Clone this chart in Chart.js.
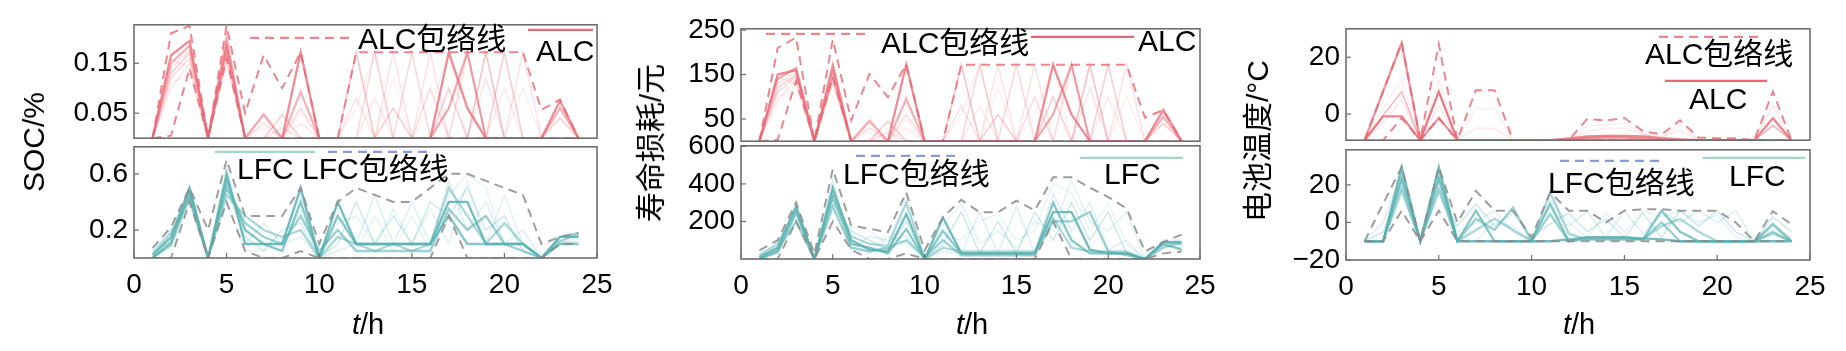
<!DOCTYPE html>
<html>
<head>
<meta charset="utf-8">
<script src="https://cdn.jsdelivr.net/npm/chart.js@4.4.1/dist/chart.umd.min.js"></script>
<style>
body{margin:0;background:#fff;}
#fig{position:relative;width:1846px;height:351px;overflow:hidden;font-family:"Liberation Sans",Arial,"Noto Sans CJK SC",sans-serif;color:#000;}
.sub{position:absolute;}
.ytitle{position:absolute;font-size:30px;white-space:nowrap;transform:translate(-50%,-50%) rotate(-90deg);}
.xtitle{position:absolute;font-size:29px;white-space:nowrap;transform:translate(-50%,-50%);}
</style>
</head>
<body>
<div id="fig"></div>
<script>
// hours 1..24
const HOURS = [1,2,3,4,5,6,7,8,9,10,11,12,13,14,15,16,17,18,19,20,21,22,23,24];
const X_TICKS = [0,5,10,15,20,25];

// ---- SOC ----
const SOC_ALC = [
  [0,0.166,0.195,0,0.182,0,0,0,0.172,0,0,0,0,0,0,0,0.172,0.06,0,0,0,0,0.075,0],
  [0,0.15,0.185,0,0.2,0,0.047,0,0.093,0,0,0,0,0,0,0,0.06,0.172,0,0,0,0,0.06,0],
  [0,0.13,0.17,0,0.162,0,0,0.047,0,0,0,0.172,0,0.06,0,0,0.1,0,0.172,0,0,0,0.04,0],
  [0,0.12,0.16,0,0.19,0,0.03,0,0.06,0,0,0,0.172,0,0,0.1,0,0.172,0,0.172,0,0,0,0],
  [0,0.14,0.175,0,0.15,0,0,0.02,0,0,0,0.08,0,0.172,0,0.172,0,0,0.12,0,0.172,0,0,0],
  [0,0.1,0.15,0,0.17,0,0.05,0,0.03,0,0,0,0.08,0,0.172,0,0.06,0.172,0,0.1,0,0,0,0],
  [0,0.16,0.14,0,0.21,0,0,0,0,0,0,0.06,0.172,0,0.172,0,0,0,0.172,0,0.1,0,0,0],
  [0,0.11,0.13,0,0.18,0,0.02,0,0.05,0,0,0.172,0,0.12,0,0.06,0.172,0,0,0.172,0,0,0,0]
];
const SOC_ALC_UPPER = [0,0.21,0.225,0,0.225,0.05,0.166,0.1,0.172,0,0,0.172,0.172,0.172,0.172,0.172,0.172,0.172,0.172,0.172,0.172,0.057,0.077,0];
const SOC_ALC_LOWER = [0,0.005,0.14,0,0.16,0,0,0,0,0,0,0,0,0,0,0,0,0,0,0,0,0,0,0];

const SOC_LFC = [
  [0.02,0.15,0.5,0,0.6,0.1,0.1,0.1,0.5,0,0.4,0.1,0.1,0.1,0.1,0.1,0.4,0.4,0.1,0.1,0.1,0,0.15,0.15],
  [0,0.1,0.45,0,0.55,0.2,0.1,0.05,0.4,0,0.3,0.1,0.1,0.1,0.1,0.1,0.3,0.1,0.1,0.1,0.1,0,0.1,0.1],
  [0,0.12,0.48,0,0.5,0.25,0.15,0.1,0.3,0.05,0.2,0.05,0.05,0.05,0.05,0.05,0.35,0.2,0.3,0.1,0.05,0,0.12,0.17],
  [0.03,0.18,0.42,0,0.45,0.3,0.2,0.15,0.2,0,0.15,0.1,0.05,0.1,0.05,0.1,0.5,0.3,0.1,0.25,0.1,0,0.15,0.18],
  [0,0.08,0.4,0,0.5,0.15,0.05,0.2,0.25,0,0.1,0.4,0.1,0.3,0.1,0.4,0.3,0.5,0.2,0.3,0.05,0,0.1,0.12],
  [0.05,0.2,0.5,0,0.65,0.1,0.25,0.1,0.15,0,0.05,0.1,0.45,0.1,0.4,0.1,0.55,0.2,0.4,0.1,0.2,0,0.1,0.15],
  [0,0.1,0.45,0,0.55,0.2,0.1,0.1,0.35,0,0.25,0.3,0.1,0.35,0.1,0.35,0.1,0.55,0.1,0.45,0.1,0,0.12,0.1],
  [0,0.15,0.47,0,0.4,0.05,0.05,0.1,0.45,0,0.35,0.05,0.3,0.05,0.3,0.05,0.45,0.6,0.5,0.1,0.1,0,0.15,0.15]
];
const SOC_LFC_UPPER = [0.07,0.22,0.5,0.2,0.7,0.3,0.3,0.3,0.5,0.1,0.4,0.5,0.45,0.4,0.4,0.5,0.6,0.6,0.55,0.5,0.45,0.1,0.15,0.18];
const SOC_LFC_LOWER = [0,0,0.4,0,0.4,0.05,0,0,0.05,0,0,0,0,0,0,0,0.3,0,0,0,0,0,0.1,0.1];

// ---- life loss ----
const LOSS_ALC = [
  [0,150,160,0,170,0,0,0,172,0,0,0,0,0,0,0,172,60,0,0,0,0,70,0],
  [0,140,165,0,150,0,45,0,95,0,0,0,0,0,0,0,60,172,0,0,0,0,55,0],
  [0,120,150,0,140,0,0,45,0,0,0,172,0,60,0,0,100,0,172,0,0,0,40,0],
  [0,110,145,0,160,0,30,0,60,0,0,0,172,0,0,100,0,172,0,172,0,0,0,0],
  [0,130,155,0,130,0,0,20,0,0,0,80,0,172,0,172,0,0,120,0,172,0,0,0],
  [0,90,140,0,150,0,50,0,30,0,0,0,80,0,172,0,60,172,0,100,0,0,0,0],
  [0,145,130,0,180,0,0,0,0,0,0,60,172,0,172,0,0,0,172,0,100,0,0,0],
  [0,100,120,0,160,0,20,0,50,0,0,172,0,120,0,60,172,0,0,172,0,0,0,0]
];
const LOSS_ALC_UPPER = [0,210,233,0,229,47,151,99,173,0,0,172,172,172,172,172,172,172,172,172,172,53,70,0];
const LOSS_ALC_LOWER = [0,3,136,0,144,0,0,0,0,0,0,0,0,0,0,0,0,0,0,0,0,0,0,0];

const LOSS_LFC = [
  [10,60,280,0,380,100,50,40,240,0,220,30,30,30,30,30,250,250,50,30,30,0,90,90],
  [0,40,250,0,330,80,60,30,160,0,150,30,30,30,30,30,300,100,30,30,30,0,80,50],
  [0,50,200,0,280,60,40,60,100,10,100,20,20,20,20,20,200,200,250,40,20,0,90,80],
  [20,80,270,0,350,120,80,70,300,0,60,40,40,40,40,40,220,60,40,40,40,0,60,90],
  [0,30,240,0,300,150,100,50,200,0,80,250,30,200,30,250,100,300,100,250,30,0,70,60],
  [10,70,260,0,420,50,120,100,120,0,40,30,250,30,280,30,350,150,300,50,100,0,100,100],
  [0,50,290,0,360,90,30,120,80,0,180,300,80,150,60,200,150,420,200,150,250,0,80,70],
  [30,90,220,0,250,170,150,80,340,0,120,100,200,240,100,150,400,350,150,300,80,0,60,120]
];
const LOSS_LFC_UPPER = [46,100,302,28,479,179,161,143,355,46,223,315,249,249,311,258,435,435,380,330,270,40,90,130];
const LOSS_LFC_LOWER = [0,0,200,0,200,50,0,0,30,0,0,0,0,0,0,0,200,0,0,0,0,0,30,40];

// ---- battery temperature ----
const TEMP_ALC = [
  [-9.2,-0.8,-0.8,-9.2,7.9,-9.2,-9.2,-9.2,-9.2,-9.2,-9.2,-8.6,-7.9,-7.7,-7.7,-7.9,-8.5,-8.9,-9.2,-9.2,-9.2,-9.2,-1.5,-9.2],
  [-9.2,8,25,-9.2,-1.4,-9.2,-9.2,-9.2,-9.2,-9.2,-9.2,-9.2,-8.5,-8.2,-8.2,-8.6,-9,-9.2,-9.2,-9.2,-9.2,-9.2,-9.2,-9.2],
  [-9.2,-0.5,7.9,-9.2,7.9,-9.2,-9.2,-9.2,-9.2,-9.2,-9.2,-9.2,-9,-8.8,-8.8,-9,-9.2,-9.2,-9.2,-9.2,-9.2,-9.2,-4,-9.2],
  [-9.2,-3,5,-9.2,3,-9.2,-5,-5,-9.2,-9.2,-9.2,-9.2,-6,-5,-5,-7,-8,-6,-9,-9.2,-9.2,-9.2,3,-9.2],
  [-9.2,2,12,-9.2,12,-9.2,2,2,-9.2,-9.2,-9.2,-9.2,-4,-4,-3,-7,-8.5,-4,-9,-9,-9,-9.2,-4,-9.2]
];
const TEMP_ALC_UPPER = [-9.2,8,25.2,-9.2,24.6,-9.2,8.4,8.4,-9.2,-9.2,-9.2,-9.2,-1.7,-2.3,-1.4,-6,-7.2,-2.2,-8.3,-8.5,-8.5,-9.2,7.9,-9.2];
const TEMP_ALC_LOWER = [-9.2,-9.2,-1.4,-9.2,-1.4,-9.2,-9.2,-9.2,-9.2,-9.2,-9.2,-9.2,-9.2,-9.2,-9.2,-9.2,-9.2,-9.2,-9.2,-9.2,-9.2,-9.2,-9.2,-9.2];

const TEMP_LFC = [
  [-10,-10,29.6,-10,29.6,-10,-10,-10,-10,-10,-10,-9,-8,-8,-8,-8.5,-9,-10,-10,-10,-10,-10,-10,-10],
  [-10,-10,23,-10,23,-10,6.3,-10,-10,-10,10,-10,-8,-8,-8,-9,6.3,-5,-10,-10,-10,-10,-1,-10],
  [-10,-10,17.7,-10,17.7,-10,2,-4,8,-10,4.5,-10,-9,-9,-9,-9,0,-10,-10,-10,-10,-10,-5,-10],
  [-10,-10,25,-10,26,-10,-4,2,-4,-10,16,-6,-9,-9,-9,-9,-2,2,-5,-10,-10,-10,-6,-10],
  [-10,-5,20,-10,15,-2,10,-2,5,-8,-0.7,5,-5,2,-8,5,-8,6.3,-2,6.3,-5,-10,3,-5],
  [-10,0,27,-10,20,-5,0,6.3,-5,-9,8,-2,6,-8,6,-6,6,0,6.3,0,6.3,-10,-3,-8],
  [-10,-10,15,-10,24,-8,-10,0,-2,-10,12,0,-8,5,-5,6,3,6,0,4,-8,-10,0,-9]
];
const TEMP_LFC_UPPER = [-10,10,29.6,-10,29.6,0,16.8,6.3,6.3,-8,16,6.3,6.3,0,6.3,7,7,6.3,6.3,6.3,0,-10,6,-1];
const TEMP_LFC_LOWER = [-10,-10,6.3,-10,6.3,-10,-10,-10,-10,-10,-10,-10,-10,-10,-10,-10,-10,-10,-10,-10,-10,-10,-10,-10];

const FONT = '"Liberation Sans", Arial, "Noto Sans CJK SC", sans-serif';
const TICK_SIZE = 28, LEG_SIZE = 30;
const ALC_RGB = '234,102,114';
const LFC_RGB = '88,178,178';
const Y_W = 100, PAD_T = 22, PAD_R = 26, PAD_B = 22, X_H = 70;

function pts(vals) { return vals.map((v, i) => ({x: HOURS[i], y: v})); }

function makeSub(c) {
  const [L, T, R, B] = c.box;
  const w = (R - L) + Y_W + PAD_R;
  const h = (B - T) + PAD_T + (c.showX ? X_H : PAD_B);
  const wrap = document.createElement('div');
  wrap.className = 'sub';
  wrap.style.left = (L - Y_W) + 'px';
  wrap.style.top = (T - PAD_T) + 'px';
  const cv = document.createElement('canvas');
  cv.width = w; cv.height = h;
  wrap.appendChild(cv);
  document.getElementById('fig').appendChild(wrap);

  const envColor = c.envColor;
  const datasets = [
    {data: pts(c.upper), borderColor: envColor, borderWidth: 2, borderDash: [9, 6]},
    {data: pts(c.lower), borderColor: envColor, borderWidth: 2, borderDash: [9, 6]}
  ];
  c.lines.forEach((vals, i) => {
    datasets.push({data: pts(vals), borderColor: `rgba(${c.rgb},${c.alphas[i]})`,
                   borderWidth: i < c.thick ? 2.3 : 1.6});
  });

  const frame = {
    id: 'frame',
    afterDraw(chart) {
      const ctx = chart.ctx, a = chart.chartArea;
      ctx.save();
      ctx.strokeStyle = '#6e6e6e';
      ctx.lineWidth = 1.6;
      ctx.strokeRect(a.left, a.top, a.right - a.left, a.bottom - a.top);
      ctx.lineWidth = 1.2;
      const ys = chart.scales.y;
      ys.ticks.forEach(t => {
        const py = ys.getPixelForValue(t.value);
        ctx.beginPath(); ctx.moveTo(a.left, py); ctx.lineTo(a.left + 5, py); ctx.stroke();
      });
      if (c.showX) {
        const xs = chart.scales.x;
        xs.ticks.forEach(t => {
          const px = xs.getPixelForValue(t.value);
          ctx.beginPath(); ctx.moveTo(px, a.bottom); ctx.lineTo(px, a.bottom - 5); ctx.stroke();
        });
      }
      // legend marks
      c.legend.forEach(it => {
        if (it.kind === 'line') {
          ctx.strokeStyle = it.color;
          ctx.lineWidth = 2.2;
          ctx.setLineDash(it.dash || []);
          ctx.beginPath();
          ctx.moveTo(a.left + it.x1, a.top + it.y);
          ctx.lineTo(a.left + it.x2, a.top + it.y);
          ctx.stroke();
          ctx.setLineDash([]);
        } else {
          ctx.fillStyle = '#000';
          ctx.font = LEG_SIZE + 'px ' + FONT;
          ctx.textBaseline = 'middle';
          ctx.textAlign = 'left';
          ctx.fillText(it.text, a.left + it.x, a.top + it.y);
        }
      });
      ctx.restore();
    }
  };

  new Chart(cv.getContext('2d'), {
    type: 'line',
    data: {datasets},
    options: {
      responsive: false, animation: false, events: [],
      layout: {padding: {left: 0, top: PAD_T, right: PAD_R, bottom: c.showX ? 0 : PAD_B}},
      plugins: {legend: {display: false}, tooltip: {enabled: false}},
      elements: {point: {radius: 0}, line: {tension: 0}},
      scales: {
        x: {
          type: 'linear', min: 0, max: 25, display: c.showX,
          grid: {display: false, drawTicks: false}, border: {display: false},
          afterBuildTicks: s => { s.ticks = X_TICKS.map(v => ({value: v})); },
          afterFit: s => { s.height = c.showX ? X_H : 0; },
          ticks: {font: {size: TICK_SIZE, family: FONT}, color: '#000', padding: 10, maxRotation: 0, autoSkip: false}
        },
        y: {
          min: c.yMin, max: c.yMax,
          grid: {display: false, drawTicks: false}, border: {display: false},
          afterBuildTicks: s => { s.ticks = c.yTicks.map(v => ({value: v})); },
          afterFit: s => { s.width = Y_W; },
          ticks: {font: {size: TICK_SIZE, family: FONT}, color: '#000', padding: 6, autoSkip: false,
                  callback: v => String(v).replace('-', '\u2212')}
        }
      }
    },
    plugins: [frame]
  });
}

const ALC_ALPHAS = [0.75, 0.5, 0.32, 0.24, 0.18, 0.14, 0.11, 0.09];
const LFC_ALPHAS = [0.85, 0.72, 0.6, 0.5, 0.28, 0.2, 0.16, 0.13];
const ALC_LINE = `rgb(${ALC_RGB})`;
const ALC_DASH = `rgba(${ALC_RGB},0.8)`;
const LFC_LEG = 'rgb(160,214,204)';
const LFC_LEG_DASH = 'rgb(140,156,210)';
const GRAY = 'rgba(140,140,140,0.85)';

// panel 1
makeSub({box: [134, 24, 597, 139], showX: false, lines: SOC_ALC, rgb: ALC_RGB, alphas: ALC_ALPHAS, thick: 2,
  upper: SOC_ALC_UPPER, lower: SOC_ALC_LOWER, envColor: ALC_DASH, yMin: 0, yMax: 0.227, yTicks: [0.05, 0.15],
  legend: [
    {kind: 'line', x1: 116, x2: 219, y: 13, color: ALC_DASH, dash: [9, 6]},
    {kind: 'text', x: 224, y: 16, text: 'ALC包络线'},
    {kind: 'line', x1: 394, x2: 459, y: 5, color: ALC_LINE},
    {kind: 'text', x: 402, y: 28, text: 'ALC'}
  ]});
makeSub({box: [134, 146, 597, 258], showX: true, lines: SOC_LFC, rgb: LFC_RGB, alphas: LFC_ALPHAS, thick: 4,
  upper: SOC_LFC_UPPER, lower: SOC_LFC_LOWER, envColor: GRAY, yMin: 0, yMax: 0.793, yTicks: [0.2, 0.6],
  legend: [
    {kind: 'line', x1: 81, x2: 181, y: 5, color: LFC_LEG},
    {kind: 'line', x1: 194, x2: 296, y: 5, color: LFC_LEG_DASH, dash: [9, 6]},
    {kind: 'text', x: 103, y: 24, text: 'LFC'},
    {kind: 'text', x: 168, y: 24, text: 'LFC包络线'}
  ]});

// panel 2
makeSub({box: [741, 28, 1200, 142], showX: false, lines: LOSS_ALC, rgb: ALC_RGB, alphas: ALC_ALPHAS, thick: 2,
  upper: LOSS_ALC_UPPER, lower: LOSS_ALC_LOWER, envColor: ALC_DASH, yMin: 0, yMax: 253, yTicks: [50, 150, 250],
  legend: [
    {kind: 'line', x1: 25, x2: 127, y: 5, color: ALC_DASH, dash: [9, 6]},
    {kind: 'text', x: 140, y: 16, text: 'ALC包络线'},
    {kind: 'line', x1: 290, x2: 393, y: 8, color: ALC_LINE},
    {kind: 'text', x: 397, y: 14, text: 'ALC'}
  ]});
makeSub({box: [741, 145, 1200, 259], showX: true, lines: LOSS_LFC, rgb: LFC_RGB, alphas: LFC_ALPHAS, thick: 4,
  upper: LOSS_LFC_UPPER, lower: LOSS_LFC_LOWER, envColor: GRAY, yMin: 0, yMax: 603, yTicks: [200, 400, 600],
  legend: [
    {kind: 'line', x1: 115, x2: 217, y: 10, color: LFC_LEG_DASH, dash: [9, 6]},
    {kind: 'text', x: 102, y: 30, text: 'LFC包络线'},
    {kind: 'line', x1: 339, x2: 442, y: 12, color: LFC_LEG},
    {kind: 'text', x: 363, y: 30, text: 'LFC'}
  ]});

// panel 3
makeSub({box: [1346, 28, 1810, 141], showX: false, lines: TEMP_ALC, rgb: ALC_RGB, alphas: [0.8, 0.7, 0.45, 0.14, 0.1], thick: 2,
  upper: TEMP_ALC_UPPER, lower: TEMP_ALC_LOWER, envColor: ALC_DASH, yMin: -9.2, yMax: 30, yTicks: [0, 20],
  legend: [
    {kind: 'line', x1: 313, x2: 413, y: 8, color: ALC_DASH, dash: [9, 6]},
    {kind: 'text', x: 299, y: 27, text: 'ALC包络线'},
    {kind: 'line', x1: 319, x2: 421, y: 52, color: ALC_LINE},
    {kind: 'text', x: 343, y: 72, text: 'ALC'}
  ]});
makeSub({box: [1346, 149, 1810, 260], showX: true, lines: TEMP_LFC, rgb: LFC_RGB, alphas: LFC_ALPHAS, thick: 4,
  upper: TEMP_LFC_UPPER, lower: TEMP_LFC_LOWER, envColor: GRAY, yMin: -20, yMax: 38.7, yTicks: [-20, 0, 20],
  legend: [
    {kind: 'line', x1: 214, x2: 315, y: 11, color: LFC_LEG_DASH, dash: [9, 6]},
    {kind: 'text', x: 202, y: 35, text: 'LFC包络线'},
    {kind: 'line', x1: 357, x2: 459, y: 8, color: LFC_LEG},
    {kind: 'text', x: 383, y: 28, text: 'LFC'}
  ]});

// axis titles
const fig = document.getElementById('fig');
[['SOC/%', 34, 142], ['寿命损耗/元', 648, 143], ['电池温度/°C', 1255, 141]].forEach(([t, x, y]) => {
  const d = document.createElement('div');
  d.className = 'ytitle'; d.textContent = t;
  d.style.left = x + 'px'; d.style.top = y + 'px';
  fig.appendChild(d);
});
[368, 972, 1579].forEach(x => {
  const d = document.createElement('div');
  d.className = 'xtitle'; d.innerHTML = '<i>t</i>/h';
  d.style.left = x + 'px'; d.style.top = '324px';
  fig.appendChild(d);
});
</script>
</body>
</html>
